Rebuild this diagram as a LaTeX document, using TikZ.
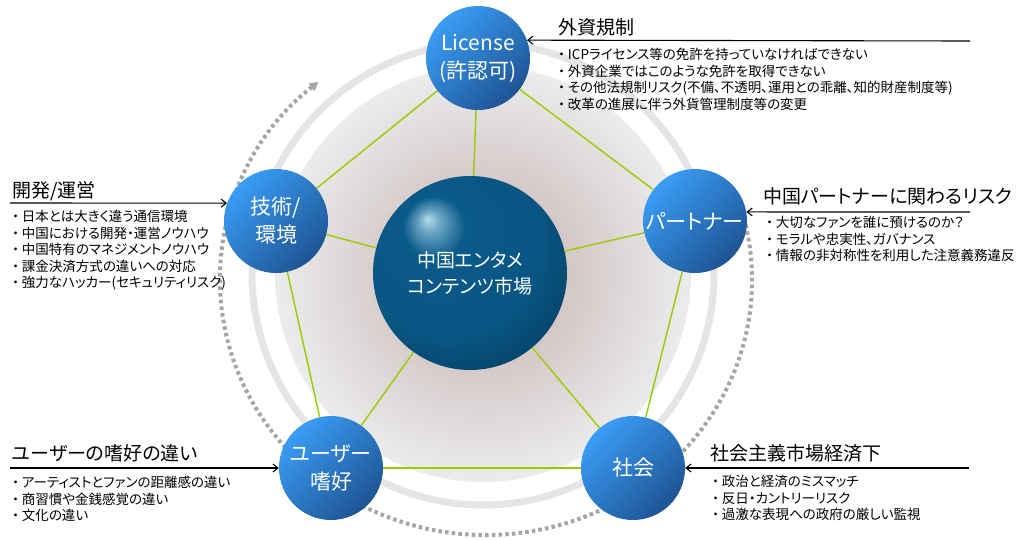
\documentclass[tikz,border=0pt]{standalone}
\usepackage{fontspec}
\setmainfont{Noto Sans CJK JP}[RawFeature=+palt]
\usetikzlibrary{arrows.meta}
\definecolor{nodelight}{RGB}{58,157,245}
\definecolor{nodedark}{RGB}{30,84,148}
\definecolor{linkgreen}{RGB}{153,204,0}
\definecolor{dotgray}{RGB}{166,166,166}
\definecolor{ringgray}{RGB}{229,229,229}
\definecolor{diskin}{RGB}{196,178,178}
\definecolor{diskmid}{RGB}{214,203,203}
\definecolor{diskout}{RGB}{236,236,236}
\definecolor{sphhl}{RGB}{178,220,236}
\definecolor{sphmain}{RGB}{10,90,138}
\definecolor{sphdark}{RGB}{3,58,90}
\pgfdeclareradialshading{diskglow}{\pgfpointorigin}{color(0bp)=(diskin); color(12bp)=(diskmid); color(25bp)=(diskout); color(50bp)=(diskout)}
\pgfdeclareradialshading{marketsphere}{\pgfpoint{-11bp}{14bp}}{color(0bp)=(sphhl); color(3bp)=(sphhl!55!sphmain); color(8bp)=(sphmain); color(24bp)=(sphmain!85!sphdark); color(38bp)=(sphdark); color(50bp)=(sphdark)}

\begin{document}
\begin{tikzpicture}[x=1pt,y=-1pt,
  every node/.style={inner sep=0pt},
  risknode/.style={circle,minimum size=104pt,top color=nodelight,bottom color=nodedark,
                   shading angle=45,text=white,align=center,font=\fontsize{21}{28}\selectfont},
  marketball/.style={circle,minimum size=194pt,shading=marketsphere,text=white,
                     align=center,font=\fontsize{19}{26}\selectfont},
  link/.style={draw=linkgreen,line width=1.4pt},
  feed/.style={-{Straight Barb[length=5pt,width=8pt]},line width=1.1pt},
  heading/.style={anchor=west,font=\fontsize{19}{24}\selectfont},
  points/.style={anchor=north west,align=left,font=\fontsize{13.5}{16.5}\selectfont}
]
  \path[use as bounding box,fill=white] (0,0) rectangle (1024,539);

  % backdrop
  \shade[shading=diskglow] (483,274) circle (208);
  \draw[ringgray,line width=7pt] (483,274) circle (231);
  \draw[dotgray,line width=4pt,dash pattern=on 3.5pt off 3.2pt,-{Triangle[length=9pt,width=9pt]}]
    (486,280) ++(-12.5:266 and 255) arc[start angle=-12.5,end angle=231,x radius=266,y radius=255];

  \node[marketball] (mkt) at (470,273) {中国エンタメ\\コンテンツ市場};
  \node[risknode] (lic) at (478,58) {License\\(許認可)};
  \node[risknode] (tech) at (276,221) {技術/\\環境};
  \node[risknode] (ptn) at (695,221) {パートナー};
  \node[risknode] (usr) at (331,468) {ユーザー\\嗜好};
  \node[risknode] (soc) at (633,468) {社会};

  \foreach \a/\b in {lic/tech,tech/usr,usr/soc,soc/ptn,ptn/lic,mkt/lic,mkt/tech,mkt/ptn,mkt/usr,mkt/soc}
    \draw[link] (\a) -- (\b);

  % risk notes
  \node[heading] (fxttl) at (558,27) {外資規制};
  \node[points] (fxpts) at (558,48) {・ ICPライセンス等の免許を持っていなければできない\\
    ・ 外資企業ではこのような免許を取得できない\\
    ・ その他法規制リスク(不備、不透明、運用との乖離、知的財産制度等)\\
    ・ 改革の進展に伴う外貨管理制度等の変更};
  \coordinate (fxin) at (970,41);
  \draw[feed] (fxin) -- (lic.20);

  \node[heading] (devttl) at (12,191) {開発/運営};
  \node[points] (devpts) at (12,210) {・ 日本とは大きく違う通信環境\\
    ・ 中国における開発・運営ノウハウ\\
    ・ 中国特有のマネジメントノウハウ\\
    ・ 課金決済方式の違いへの対応\\
    ・ 強力なハッカー(セキュリティリスク)};
  \coordinate (devin) at (10,203);
  \draw[feed] (devin) -- (tech.160);

  \node[heading] (ptnttl) at (763,196) {中国パートナーに関わるリスク};
  \node[points] (ptnpts) at (766,216) {・ 大切なファンを誰に預けるのか？\\
    ・ モラルや忠実性、ガバナンス\\
    ・ 情報の非対称性を利用した注意義務違反};
  \coordinate (ptnin) at (970,212);
  \draw[feed] (ptnin) -- (ptn.10);

  \node[heading] (usrttl) at (12,453) {ユーザーの嗜好の違い};
  \node[points] (usrpts) at (12,476) {・ アーティストとファンの距離感の違い\\
    ・ 商習慣や金銭感覚の違い\\
    ・ 文化の違い};
  \coordinate (usrin) at (10,468);
  \draw[feed] (usrin) -- (usr.west);

  \node[heading] (socttl) at (710,453) {社会主義市場経済下};
  \node[points] (socpts) at (712,475) {・ 政治と経済のミスマッチ\\
    ・ 反日・カントリーリスク\\
    ・ 過激な表現への政府の厳しい監視};
  \coordinate (socin) at (969,468);
  \draw[feed] (socin) -- (soc.east);
\end{tikzpicture}
\end{document}
